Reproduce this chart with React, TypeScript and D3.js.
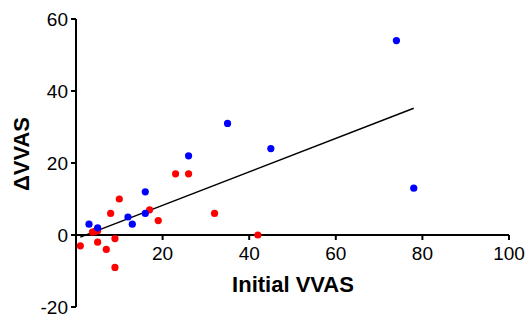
import React from "react";
import * as d3 from "d3";

const blueX = [3, 5, 12, 13, 16, 16, 26, 35, 45, 74, 78];
const blueY = [3, 2, 5, 3, 12, 6, 22, 31, 24, 54, 13];
const redX = [1, 3.8, 4.4, 5, 5, 7, 9, 8, 10, 17, 19, 23, 26, 32, 42, 9];
const redY = [-3, 0.8, 1, 1.2, -2, -4, -1, 6, 10, 7, 4, 17, 17, 6, 0, -9];
const fitX = [1, 78];
const fitY = [-0.6, 35.2];
const xTicks = [20, 40, 60, 80, 100];
const yTicks = [-20, 0, 20, 40, 60];

const W = 531;
const H = 320;

export default function App() {
  const x = d3.scaleLinear().domain([0, 100]).range([76, 509]);
  const y = d3.scaleLinear().domain([-20, 60]).range([307, 19]);
  const font = "Arial, 'Liberation Sans', Helvetica, sans-serif";
  const line = d3
    .line<number>()
    .x((d) => x(d))
    .y((_, i) => y(fitY[i]));
  const blue = blueX.map((v, i) => [v, blueY[i]]);
  const red = redX.map((v, i) => [v, redY[i]]);
  return (
    <svg
      width={W}
      height={H}
      style={{ position: "absolute", left: 0, top: 0, background: "#fff" }}
      fontFamily={font}
    >
      {/* y axis */}
      <line x1={x(0)} x2={x(0)} y1={y(-20)} y2={y(60)} stroke="#000" strokeWidth={2} />
      {yTicks.map((t) => (
        <g key={"y" + t}>
          <line x1={x(0) - 5} x2={x(0)} y1={y(t)} y2={y(t)} stroke="#000" strokeWidth={2} />
          <text x={x(0) - 8} y={y(t)} dy="0.35em" textAnchor="end" fontSize={19} fill="#000">
            {t}
          </text>
        </g>
      ))}
      {/* x axis */}
      <line x1={x(0)} x2={x(100)} y1={y(0)} y2={y(0)} stroke="#000" strokeWidth={2} />
      {xTicks.map((t) => (
        <g key={"x" + t}>
          <line x1={x(t)} x2={x(t)} y1={y(0)} y2={y(0) + 5} stroke="#000" strokeWidth={2} />
          <text x={x(t)} y={y(0) + 25} textAnchor="middle" fontSize={19} fill="#000">
            {t}
          </text>
        </g>
      ))}
      <text x={293} y={292} textAnchor="middle" fontSize={22} fontWeight="bold" fill="#000">
        Initial VVAS
      </text>
      <text
        transform={`translate(29,154) rotate(-90)`}
        textAnchor="middle"
        fontSize={22}
        fontWeight="bold"
        fill="#000"
      >
        ΔVVAS
      </text>
      <path d={line(fitX) || ""} fill="none" stroke="#000" strokeWidth={1.5} />
      {red.map((d, i) => (
        <circle key={"r" + i} cx={x(d[0])} cy={y(d[1])} r={3.6} fill="#ff0000" />
      ))}
      {blue.map((d, i) => (
        <circle key={"b" + i} cx={x(d[0])} cy={y(d[1])} r={3.6} fill="#0000ff" />
      ))}
    </svg>
  );
}
